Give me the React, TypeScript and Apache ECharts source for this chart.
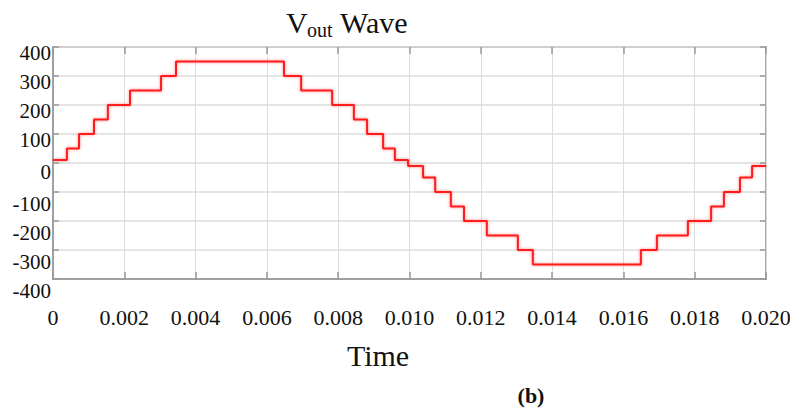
import React, { useEffect, useRef } from "react";
import * as echarts from "echarts";

// Step instants (s) and the output voltage level held from each instant on
const stepTimes = [
  0, 0.00039, 0.00073, 0.00115, 0.00154, 0.00216, 0.00303, 0.00345, 0.00648,
  0.00696, 0.00783, 0.00844, 0.00881, 0.00926, 0.00959, 0.00996, 0.01038,
  0.01072, 0.01116, 0.01153, 0.01217, 0.01304, 0.01346, 0.01649, 0.01694,
  0.01781, 0.01846, 0.01882, 0.01927, 0.01961, 0.02,
];
const stepValues = [
  10, 50, 100, 150, 200, 250, 300, 350, 300, 250, 200, 150, 100, 50, 10, -10,
  -50, -100, -150, -200, -250, -300, -350, -300, -250, -200, -150, -100, -50,
  -10, -10,
];
const xTickLabels = [
  "0", "0.002", "0.004", "0.006", "0.008", "0.010", "0.012", "0.014", "0.016",
  "0.018", "0.020",
];
const yTickLabels = ["-400", "-300", "-200", "-100", "0", "100", "200", "300", "400"];

const titleMain = "V";
const titleSub = "out";
const titleRest = "Wave";
const xTitle = "Time";
const panelLabel = "(b)";

const FONT = "'Liberation Serif', 'Times New Roman', serif";

export default function App() {
  const ref = useRef<HTMLDivElement>(null);
  useEffect(() => {
    if (!ref.current) return;
    const chart = echarts.init(ref.current, undefined, { renderer: "svg" });
    const data = stepTimes.map((t, i) => [t, stepValues[i]]);
    const xStep = 0.002;
    const yStep = 100;
    const tickStyle = { color: "#9a9a9a", width: 1.5 };
    chart.setOption({
      animation: false,
      backgroundColor: "#ffffff",
      grid: {
        left: 53,
        right: 24,
        top: 47,
        bottom: 135,
        show: true,
        borderColor: "#a6a6a6",
        borderWidth: 2,
        outerBoundsMode: "none",
      },
      xAxis: [
        {
          type: "value",
          min: 0,
          max: 0.02,
          interval: xStep,
          axisLine: { show: true, onZero: false, lineStyle: { color: "#a0a0a0", width: 2 } },
          axisTick: { show: true, inside: true, length: 7, lineStyle: tickStyle },
          splitLine: { show: true, lineStyle: { color: "#dcdcdc", width: 1 } },
          axisLabel: {
            margin: 27,
            fontFamily: FONT,
            fontSize: 22,
            color: "#111",
            formatter: (v: number) => xTickLabels[Math.round(v / xStep)] ?? "",
          },
        },
        {
          type: "value",
          position: "top",
          min: 0,
          max: 0.02,
          interval: xStep,
          axisLine: { show: false, onZero: false },
          axisTick: { show: true, inside: true, length: 7, lineStyle: tickStyle },
          splitLine: { show: false },
          axisLabel: { show: false },
        },
      ],
      yAxis: [
        {
          type: "value",
          min: -400,
          max: 400,
          interval: yStep,
          axisLine: { show: true, onZero: false, lineStyle: { color: "#a0a0a0", width: 2 } },
          axisTick: { show: true, inside: true, length: 6, lineStyle: tickStyle },
          splitLine: { show: true, lineStyle: { color: "#dcdcdc", width: 1.5 } },
          axisLabel: {
            margin: 2,
            fontFamily: FONT,
            fontSize: 21,
            color: "#111",
            formatter: (v: number) => {
              const s = yTickLabels[Math.round((v + 400) / yStep)] ?? "";
              if (v < 0) return `{n|${s}}`;
              if (v === 0) return `{z|${s}}`;
              return `{p|${s}}`;
            },
            rich: {
              p: { fontFamily: FONT, fontSize: 21, color: "#111", padding: [12, 0, 0, 0] },
              z: { fontFamily: FONT, fontSize: 21, color: "#111", padding: [18, 0, 0, 0] },
              n: { fontFamily: FONT, fontSize: 21, color: "#111", padding: [24, 0, 0, 0] },
            },
          },
        },
        {
          type: "value",
          position: "right",
          min: -400,
          max: 400,
          interval: yStep,
          axisLine: { show: false, onZero: false },
          axisTick: { show: true, inside: true, length: 6, lineStyle: tickStyle },
          splitLine: { show: false },
          axisLabel: { show: false },
        },
      ],
      series: [
        {
          type: "line",
          step: "end",
          data,
          symbol: "none",
          lineStyle: {
            color: "#ff1a1a",
            width: 2,
            shadowColor: "rgba(255,60,60,0.6)",
            shadowBlur: 3,
          },
        },
      ],
      graphic: [
        {
          type: "text",
          left: 286,
          top: 7,
          style: { text: titleMain, font: `30px ${FONT}`, fill: "#111" },
        },
        {
          type: "text",
          left: 307,
          top: 20,
          style: { text: titleSub, font: `20px ${FONT}`, fill: "#111" },
        },
        {
          type: "text",
          left: 340,
          top: 7,
          style: { text: titleRest, font: `30px ${FONT}`, fill: "#111" },
        },
        {
          type: "text",
          x: 378,
          y: 355,
          style: {
            text: xTitle,
            font: `30px ${FONT}`,
            fill: "#111",
            align: "center",
            verticalAlign: "middle",
          },
        },
        {
          type: "text",
          x: 531,
          y: 395,
          style: {
            text: panelLabel,
            font: `bold 22px ${FONT}`,
            fill: "#111",
            align: "center",
            verticalAlign: "middle",
          },
        },
      ],
    });
    return () => chart.dispose();
  }, []);
  return (
    <div
      ref={ref}
      style={{ position: "fixed", left: 0, top: 0, width: 790, height: 414 }}
    />
  );
}
